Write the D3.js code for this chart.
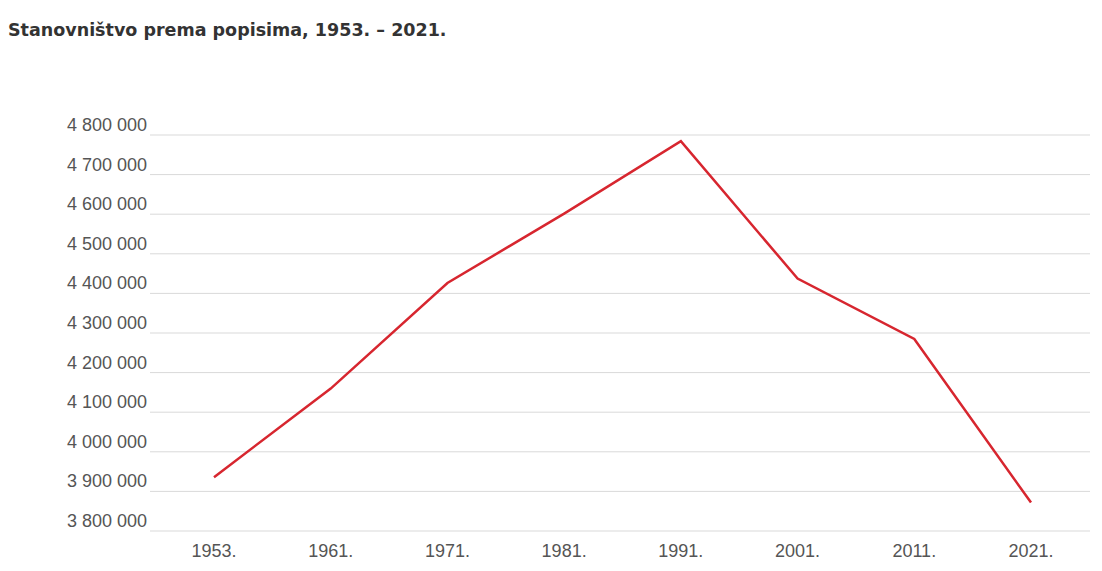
<!DOCTYPE html>
<html><head><meta charset="utf-8">
<script src="https://cdn.jsdelivr.net/npm/d3@7"></script>
<style>body{margin:0;background:#fff}</style></head>
<body><svg id="c" width="1102" height="571"></svg>
<script>
const years = ["1953.","1961.","1971.","1981.","1991.","2001.","2011.","2021."];
const population = [3936022,4159696,4426221,4601469,4784265,4437460,4284889,3871833];
const yTicks = [3800000,3900000,4000000,4100000,4200000,4300000,4400000,4500000,4600000,4700000,4800000];
const title = "Stanovništvo prema popisima, 1953. – 2021.";

const svg = d3.select("#c");
const x = d3.scalePoint().domain(years).range([214,1031]).padding(0);
const y = d3.scaleLinear().domain([3800000,4800000]).range([531,135]);
const fmt = v => d3.format(",")(v).replace(/,/g," ");

svg.append("text").attr("x",8).attr("y",36).text(title)
  .attr("font-family","DejaVu Sans, sans-serif").attr("font-size",17.5).attr("font-weight",600).attr("fill","#333");

const g = svg.append("g");
g.selectAll("line.grid").data(yTicks).join("line")
  .attr("x1",150).attr("x2",1090).attr("y1",d=>y(d)).attr("y2",d=>y(d))
  .attr("stroke","#d9d9d9").attr("stroke-width",1);
g.selectAll("text.yl").data(yTicks).join("text")
  .attr("x",147).attr("y",d=>y(d)-4).attr("text-anchor","end")
  .attr("font-family","Liberation Sans, Arial, sans-serif").attr("font-size",18).attr("fill","#555")
  .text(fmt);
g.selectAll("text.xl").data(years).join("text")
  .attr("x",d=>x(d)).attr("y",557).attr("text-anchor","middle")
  .attr("font-family","Liberation Sans, Arial, sans-serif").attr("font-size",18).attr("fill","#555")
  .text(d=>d);
svg.append("path").datum(population.map((v,i)=>[years[i],v]))
  .attr("d",d3.line().x(d=>x(d[0])).y(d=>y(d[1])))
  .attr("fill","none").attr("stroke","#d7262f").attr("stroke-width",2.5);
</script></body></html>
